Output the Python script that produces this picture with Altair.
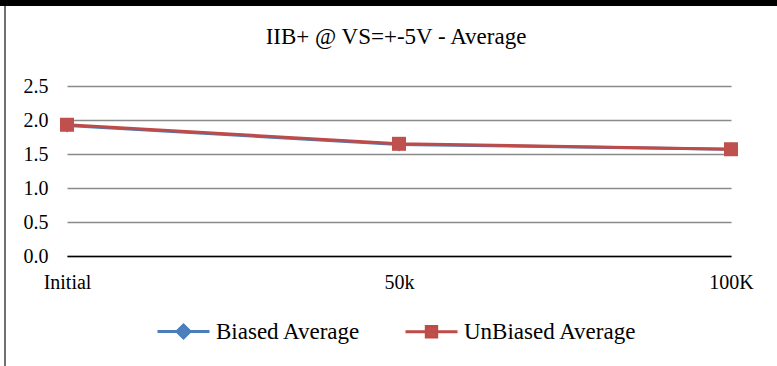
import altair as alt
import pandas as pd

categories = ["Initial", "50k", "100K"]
series_names = ["Biased Average", "UnBiased Average"]
biased = [1.92, 1.64, 1.57]
unbiased = [1.93, 1.65, 1.57]
y_ticks = [0.0, 0.5, 1.0, 1.5, 2.0, 2.5]

line_colors = ["#4A7EBB", "#BE4B48"]
marker_colors = ["#4F81BD", "#C0504D"]

rows = []
for name, vals in zip(series_names, [biased, unbiased]):
    for c, v in zip(categories, vals):
        rows.append({"cat": c, "value": v, "series": name})
df = pd.DataFrame(rows)

FONT = "Liberation Serif"

x_enc = alt.X(
    "cat:N",
    sort=categories,
    scale=alt.Scale(type="point", padding=0),
    axis=alt.Axis(
        title=None, labelAngle=0, ticks=False, tickSize=0, labelPadding=16,
        labelFont=FONT, labelFontSize=20, labelColor="#000000",
        domainColor="#000000", domainWidth=1.5, grid=False, zindex=1,
    ),
)
y_enc = alt.Y(
    "value:Q",
    scale=alt.Scale(domain=[0, 2.5], nice=False, zero=True),
    axis=alt.Axis(
        title=None, values=y_ticks, format=".1f", ticks=False, tickSize=0,
        domain=False, labelPadding=19, labelFont=FONT, labelFontSize=20,
        labelColor="#000000", gridColor="#8a8a8a", gridWidth=1.3,
    ),
)

lines = alt.Chart(df).mark_line(strokeWidth=3).encode(
    x=x_enc, y=y_enc,
    color=alt.Color("series:N", scale=alt.Scale(domain=series_names, range=line_colors), legend=None),
)

points = alt.Chart(df).mark_point(filled=True, opacity=1, size=196).encode(
    x=x_enc, y=y_enc,
    color=alt.Color("series:N", scale=alt.Scale(domain=series_names, range=marker_colors), legend=None),
    shape=alt.Shape("series:N", scale=alt.Scale(domain=series_names, range=["diamond", "square"]), legend=None),
)

legend_paths = [
    "M-1,0L1,0M0,-0.25L0.25,0L0,0.25L-0.25,0Z",
    "M-1,0L1,0M-0.2,-0.2L0.2,-0.2L0.2,0.2L-0.2,0.2Z",
]
leg = alt.Legend(
    title=None, orient="none", legendX=89, legendY=218, direction="horizontal",
    symbolSize=2704, symbolStrokeWidth=3, labelFont=FONT, labelFontSize=23,
    labelColor="#000000", labelOffset=5, columnPadding=38, padding=0, labelLimit=400,
)
legend_layer = alt.Chart(df).mark_point(filled=True, opacity=1, strokeWidth=3).encode(
    x=x_enc, y=y_enc,
    fill=alt.Fill("series:N", scale=alt.Scale(domain=series_names, range=marker_colors), legend=leg),
    stroke=alt.Stroke("series:N", scale=alt.Scale(domain=series_names, range=line_colors), legend=leg),
    shape=alt.Shape("series:N", scale=alt.Scale(domain=series_names, range=legend_paths), legend=leg),
).transform_filter("false")

deco = pd.DataFrame({"d": [0]})
top_bar = alt.Chart(deco).mark_rect(color="#000000").encode(
    x=alt.value(-67), x2=alt.value(710), y=alt.value(-86), y2=alt.value(-80)
)
left_line = alt.Chart(deco).mark_rule(color="#404040", strokeWidth=1.5).encode(
    x=alt.value(-62), y=alt.value(-80), y2=alt.value(280)
)

chart = alt.layer(lines, points, legend_layer, top_bar, left_line).resolve_scale(
    shape="independent", color="independent", fill="independent", stroke="independent"
).properties(
    width=664, height=170,
    title=alt.TitleParams(
        "IIB+ @ VS=+-5V - Average", font=FONT, fontSize=23, fontWeight="normal",
        color="#000000", anchor="middle", frame="group", baseline="alphabetic",
        offset=-67, dx=-3,
    ),
    autosize=alt.AutoSizeParams(type="none"),
    padding={"left": 67, "top": 86, "right": 46, "bottom": 110},
    background="#ffffff",
).configure_view(stroke=None)

chart.save("out.html", embed_options={"renderer": "svg", "actions": False})
